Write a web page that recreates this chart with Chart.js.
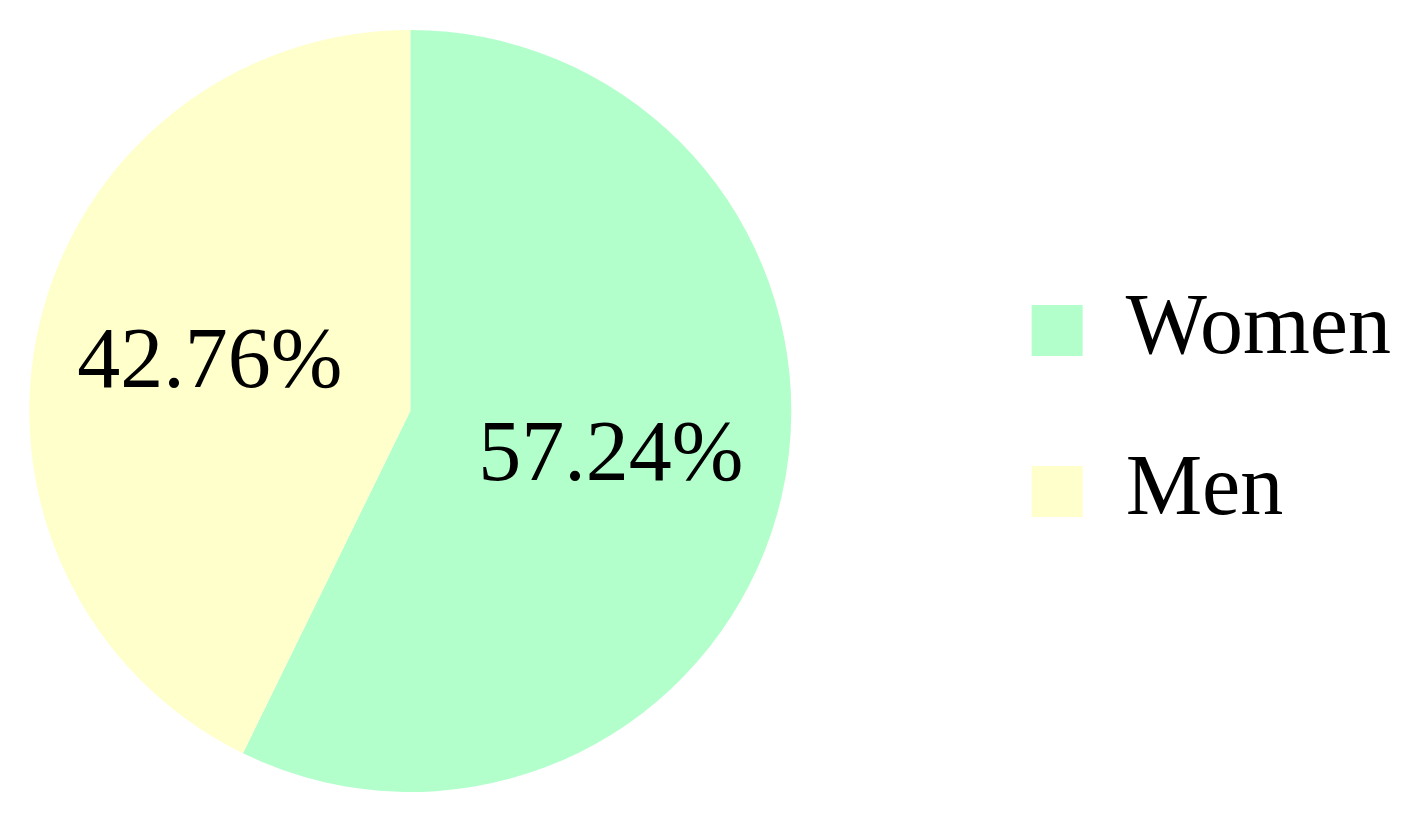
<!DOCTYPE html>
<html>
<head>
<meta charset="utf-8">
<script src="https://cdn.jsdelivr.net/npm/chart.js@4.4.1/dist/chart.umd.min.js"></script>
<style>
  html, body { margin: 0; padding: 0; background: #fff; overflow: hidden; }
  /* canvas runs past the left edge so the pie sits where the original has it */
  #wrap { width: 1553px; height: 814px; margin-left: -136px; }
</style>
</head>
<body>
<div id="wrap"><canvas id="chart"></canvas></div>
<script>
const categories = ['Women', 'Men'];
const shares = [57.24, 42.76];
const sliceColors = ['#B3FFCC', '#FFFFCC'];

// percentage text inside each slice
const sliceLabels = {
    id: 'sliceLabels',
    afterDatasetsDraw(chart) {
        const ctx = chart.ctx;
        const meta = chart.getDatasetMeta(0);
        ctx.save();
        ctx.font = '86px "Liberation Serif", serif';
        ctx.fillStyle = '#000';
        ctx.textAlign = 'center';
        ctx.textBaseline = 'middle';
        meta.data.forEach((arc, i) => {
            const p = arc.getProps(['x', 'y', 'startAngle', 'endAngle', 'outerRadius'], true);
            const mid = (p.startAngle + p.endAngle) / 2;
            const r = p.outerRadius * 0.54;
            ctx.fillText(shares[i].toFixed(2) + '%', p.x + Math.cos(mid) * r, p.y + Math.sin(mid) * r);
        });
        ctx.restore();
    }
};

new Chart(document.getElementById('chart').getContext('2d'), {
    type: 'pie',
    data: {
        labels: categories,
        datasets: [{
            data: shares,
            backgroundColor: sliceColors,
            borderWidth: 0
        }]
    },
    options: {
        responsive: true,
        maintainAspectRatio: false,
        animation: false,
        layout: { padding: { top: 30, bottom: 22, left: 0, right: 16 } },
        plugins: {
            tooltip: { enabled: false },
            legend: {
                position: 'right',
                labels: {
                    boxWidth: 51,
                    boxHeight: 51,
                    padding: 75,
                    color: '#000',
                    font: { family: '"Liberation Serif", serif', size: 86 }
                }
            }
        }
    },
    plugins: [sliceLabels]
});
</script>
</body>
</html>
